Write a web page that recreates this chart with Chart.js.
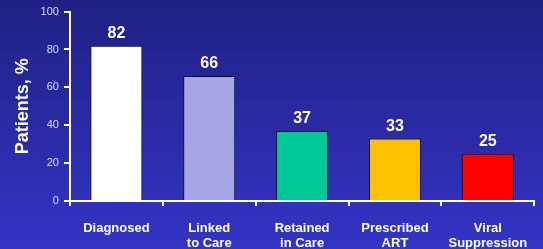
<!DOCTYPE html>
<html><head><meta charset="utf-8">
<script src="https://cdn.jsdelivr.net/npm/chart.js@4/dist/chart.umd.min.js"></script>
<style>
html,body{margin:0;padding:0;background:#2a2aa6;}
#wrap{width:543px;height:249px;position:relative;}
</style></head>
<body><div id="wrap"><canvas id="c" width="543" height="249"></canvas></div>
<script>
const categories = [["Diagnosed"], ["Linked", "to Care"], ["Retained", "in Care"], ["Prescribed", "ART"], ["Viral", "Suppression"]];
const patientsPct = [82, 66, 37, 33, 25];
const barColors = ["#ffffff", "#a6a6e6", "#00c896", "#ffc000", "#ff0000"];
const yTicks = [0, 20, 40, 60, 80, 100];

const bgPlugin = {
  id: 'bg',
  beforeDraw(chart) {
    const ctx = chart.ctx;
    const g = ctx.createLinearGradient(0, 0, 0, chart.height);
    g.addColorStop(0, '#202084');
    g.addColorStop(1, '#3434c6');
    ctx.save();
    ctx.fillStyle = g;
    ctx.fillRect(0, 0, chart.width, chart.height);
    ctx.restore();
  }
};
const labelPlugin = {
  id: 'vals',
  afterDatasetsDraw(chart) {
    const ctx = chart.ctx;
    const meta = chart.getDatasetMeta(0);
    ctx.save();
    ctx.fillStyle = '#ffffff';
    ctx.font = 'bold 16px "Liberation Sans", Arial, sans-serif';
    ctx.textAlign = 'center';
    ctx.textBaseline = 'bottom';
    meta.data.forEach((el, i) => {
      ctx.fillText(String(chart.data.datasets[0].data[i]), el.x, el.y - 4);
    });
    ctx.restore();
  }
};

new Chart(document.getElementById('c'), {
  type: 'bar',
  data: {
    labels: categories,
    datasets: [{
      data: patientsPct,
      backgroundColor: barColors,
      borderColor: '#111111',
      borderWidth: 1,
      barPercentage: 0.56,
      categoryPercentage: 1.0
    }]
  },
  options: {
    responsive: false,
    animation: false,
    devicePixelRatio: 1,
    layout: { padding: { top: 9, right: 8, left: 12, bottom: 0 } },
    plugins: { legend: { display: false }, tooltip: { enabled: false } },
    scales: {
      x: {
        offset: true,
        afterFit(scale) { scale.height = 48; },
        grid: { display: true, drawOnChartArea: false, offset: true, color: '#ffffff', lineWidth: 2, tickLength: 5 },
        border: { display: true, color: '#ffffff', width: 2 },
        ticks: { color: '#ffffff', font: { family: '"Liberation Sans", Arial, sans-serif', size: 13, weight: 'bold', lineHeight: 1.15 }, maxRotation: 0, padding: 15 }
      },
      y: {
        min: 0, max: 100,
        afterBuildTicks(scale) { scale.ticks = yTicks.map(v => ({ value: v })); },
        grid: { display: true, drawOnChartArea: false, color: '#ffffff', lineWidth: 2, tickLength: 6 },
        border: { display: true, color: '#ffffff', width: 2 },
        ticks: { color: '#dcdcf4', font: { family: '"Liberation Sans", Arial, sans-serif', size: 11 }, padding: 5 },
        title: { display: true, text: 'Patients, %', color: '#ffffff', font: { family: '"Liberation Sans", Arial, sans-serif', size: 18, weight: 'bold' }, padding: { top: 0, bottom: 2 } }
      }
    }
  },
  plugins: [bgPlugin, labelPlugin]
});
</script>
</body></html>
